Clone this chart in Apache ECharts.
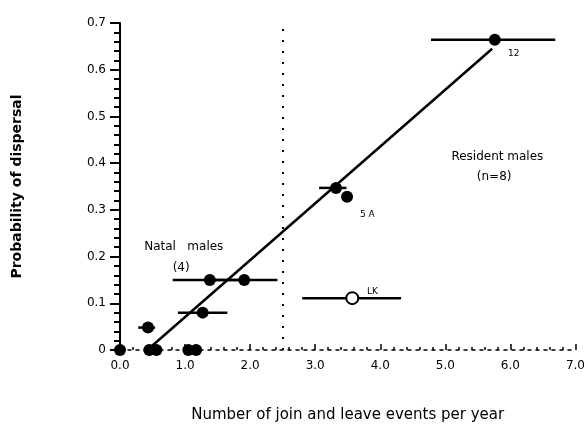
<!DOCTYPE html>
<html><head><meta charset="utf-8">
<script src="https://cdn.jsdelivr.net/npm/echarts@6/dist/echarts.min.js"></script>
<style>html,body{margin:0;padding:0;background:#fff}#c{width:588px;height:432px}</style>
</head><body><div id="c"></div>
<script>
// ---- data ----
var filledX = [0, 0.43, 0.45, 0.56, 1.05, 1.17, 1.27, 1.38, 1.91, 3.32, 3.49, 5.76];
var filledY = [0, 0.048, 0, 0, 0, 0, 0.08, 0.15, 0.15, 0.347, 0.328, 0.664];
var openX = [3.57];
var openY = [0.111];
// error bars: x, y, low, high
var errX = [0.43, 1.27, 1.38, 1.91, 3.32, 5.76, 3.57];
var errY = [0.048, 0.08, 0.15, 0.15, 0.347, 0.664, 0.111];
var errLo = [0.28, 0.89, 0.81, 1.40, 3.06, 4.78, 2.80];
var errHi = [0.54, 1.65, 1.95, 2.42, 3.48, 6.69, 4.32];
var fitX = [0.42, 5.72];
var fitY = [0, 0.645];
var thresholdX = 2.5;
var noteText = ["Natal   males", "(4)", "Resident males", "(n=8)"];
var noteX = [0.98, 0.94, 5.8, 5.75];
var noteY = [0.22, 0.176, 0.414, 0.37];
var tagText = ["12", "5 A", "LK"];
var tagX = [6.05, 3.8, 3.88];
var tagY = [0.635, 0.29, 0.125];

var chart = echarts.init(document.getElementById('c'));
function zip(a, b) { return a.map(function (v, i) { return [v, b[i]]; }); }
var errData = errX.map(function (x, i) { return [x, errY[i], errLo[i], errHi[i]]; });
var lbl = { show: true, position: 'inside', formatter: '{b}', color: '#000', opacity: 1,
  fontFamily: 'DejaVu Sans', textBorderWidth: 0 };

chart.setOption({
  animation: false,
  backgroundColor: '#fff',
  grid: { left: 120, right: 11, top: 23, bottom: 82 },
  xAxis: {
    type: 'value', min: 0, max: 7, interval: 1,
    name: 'Number of join and leave events per year',
    nameLocation: 'middle', nameGap: 58,
    nameTextStyle: { fontSize: 15, color: '#000', fontFamily: 'DejaVu Sans' },
    axisLine: { show: true, onZero: false, lineStyle: { color: '#000', width: 1.5, type: [3, 5] } },
    axisTick: { show: true, inside: true, length: 6, lineStyle: { color: '#000', width: 1.5 } },
    minorTick: { show: true, splitNumber: 5, length: 3, lineStyle: { color: '#000', width: 1.5 } },
    axisLabel: { color: '#000', fontSize: 12, fontFamily: 'DejaVu Sans', margin: 10,
      formatter: function (v) { return v.toFixed(1); } },
    splitLine: { show: false }
  },
  yAxis: {
    type: 'value', min: 0, max: 0.7, interval: 0.1,
    name: 'Probability of dispersal',
    nameLocation: 'middle', nameGap: 96,
    nameTextStyle: { fontSize: 14, color: '#000', fontFamily: 'DejaVu Sans', fontWeight: 'bold' },
    axisLine: { show: true, lineStyle: { color: '#000', width: 2 } },
    axisTick: { show: true, length: 10, lineStyle: { color: '#000', width: 2 } },
    minorTick: { show: true, splitNumber: 5, length: 6, lineStyle: { color: '#000', width: 2 } },
    axisLabel: { color: '#000', fontSize: 12, fontFamily: 'DejaVu Sans', margin: 14,
      formatter: function (v) { return v === 0 ? '0' : v.toFixed(1); } },
    splitLine: { show: false }
  },
  series: [
    {
      type: 'line', data: zip(fitX, fitY), symbol: 'none',
      lineStyle: { color: '#000', width: 2.5, opacity: 1 }, z: 2,
      markLine: {
        silent: true, symbol: 'none', label: { show: false },
        lineStyle: { color: '#000', type: [2, 9], width: 2, opacity: 1 },
        data: [{ xAxis: thresholdX }]
      }
    },
    {
      type: 'custom', z: 3,
      renderItem: function (params, api) {
        var y = api.value(1);
        var p1 = api.coord([api.value(2), y]);
        var p2 = api.coord([api.value(3), y]);
        return { type: 'line', shape: { x1: p1[0], y1: p1[1], x2: p2[0], y2: p2[1] },
          style: { stroke: '#000', lineWidth: 2.5 } };
      },
      data: errData
    },
    {
      type: 'scatter', data: zip(filledX, filledY), symbol: 'circle', symbolSize: 12,
      itemStyle: { color: '#000', opacity: 1 }, z: 4
    },
    {
      type: 'scatter', data: zip(openX, openY), symbol: 'circle', symbolSize: 12,
      itemStyle: { color: '#fff', borderColor: '#000', borderWidth: 2, opacity: 1 }, z: 5
    },
    {
      type: 'scatter', symbolSize: 0, z: 6, itemStyle: { opacity: 1 },
      data: noteText.map(function (t, i) { return { value: [noteX[i], noteY[i]], name: t }; }),
      label: Object.assign({}, lbl, { fontSize: 12 })
    },
    {
      type: 'scatter', symbolSize: 0, z: 6, itemStyle: { opacity: 1 },
      data: tagText.map(function (t, i) { return { value: [tagX[i], tagY[i]], name: t }; }),
      label: Object.assign({}, lbl, { fontSize: 9 })
    }
  ]
});
</script></body></html>
